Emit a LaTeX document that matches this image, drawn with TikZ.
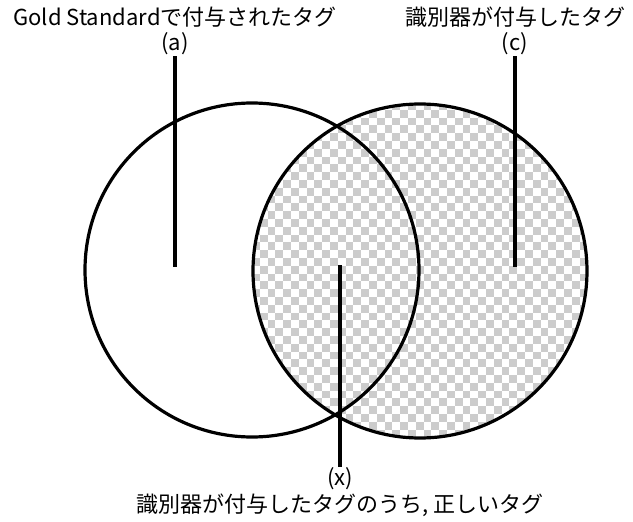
\documentclass[tikz,border=0pt]{standalone}
\usepackage{fontspec}
\usepackage{tikz}
\usetikzlibrary{positioning,calc}
\newfontfamily\jpfont{Noto Sans CJK JP}
\definecolor{VennGray}{HTML}{CCCCCC}
\definecolor{VennDark}{HTML}{000000}
\tikzset{
  tagtext/.style={font=\jpfont\fontsize{22}{26}\selectfont,inner sep=1pt,text=VennDark},
  vennring/.style={draw=VennDark,line width=3.2pt},
  leader/.style={draw=VennDark,line width=3.1pt}
}

\begin{document}
\begin{tikzpicture}[x=1pt,y=-1pt]
\useasboundingbox (0,0) rectangle (633,522);
\coordinate (lc) at (252,270);
\coordinate (rc) at (420,271);
\begin{scope}
\clip (rc) circle[radius=167pt];
\foreach \r in {0,...,44}{
  \foreach \c in {0,...,22}{
    \pgfmathsetmacro{\px}{252+15.6*\c+7.8*mod(\r,2)}
    \fill[VennGray] (\px,102+7.8*\r) rectangle ++(7.8,7.8);
  }
}
\end{scope}
\draw[vennring] (lc) circle[radius=167pt];
\draw[vennring] (rc) circle[radius=167pt];
\node[tagtext] (gold) at (175,17) {Gold Standardで付与されたタグ};
\node[tagtext,below=3pt of gold] (a) {(a)};
\node[tagtext] (sys) at (515,17) {識別器が付与したタグ};
\node[tagtext,below=3pt of sys] (c) {(c)};
\node[tagtext] (corr) at (340,505) {識別器が付与したタグのうち, 正しいタグ};
\node[tagtext,above=1pt of corr] (x) {(x)};
\coordinate (aend) at (a.south |- 0,267);
\coordinate (cend) at (c.south |- 0,267);
\coordinate (xtop) at (x.north |- 0,265);
\draw[leader] (a.south) -- (aend);
\draw[leader] (c.south) -- (cend);
\draw[leader] (xtop) -- (x.north);
\end{tikzpicture}
\end{document}
